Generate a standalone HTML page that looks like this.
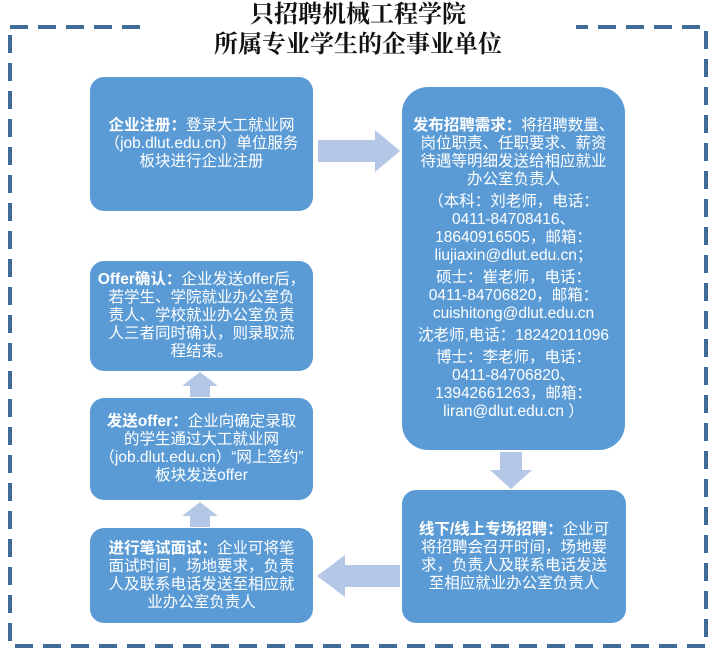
<!DOCTYPE html>
<html><head><meta charset="utf-8"><style>
body{margin:0;width:716px;height:653px;background:#fff;position:relative;overflow:hidden;font-family:"Liberation Sans","Noto Sans CJK SC",sans-serif;}
.title{position:absolute;text-align:center;background:#fff;font-family:"Liberation Serif","Noto Serif CJK SC",serif;font-weight:bold;font-size:24px;line-height:30px;color:#111;}
.box{position:absolute;background:#5b9bd5;color:#fff;font-size:15.5px;line-height:18px;text-align:center;display:flex;flex-direction:column;justify-content:center;align-items:center;border-radius:14px;box-sizing:border-box;white-space:nowrap;}
.box b{font-weight:bold}
.box p{margin:0 0 4px 0}
svg{position:absolute;left:0;top:0}
</style></head><body>
<svg width="716" height="653">
<rect x="10" y="27" width="696" height="619" fill="none" stroke="#3f6d96" stroke-width="4" stroke-dasharray="18,10"/>
</svg>
<div class="title" style="top:0px;left:140px;width:436px;">只招聘机械工程学院</div>
<div class="title" style="top:30px;left:205px;width:306px;">所属专业学生的企事业单位</div>

<div class="box" style="left:90px;top:77px;width:223px;height:134px;"><div><b>企业注册：</b>登录大工就业网<br>（job.dlut.edu.cn）单位服务<br>板块进行企业注册</div></div>

<div class="box" style="left:402px;top:87px;width:223px;height:363px;border-radius:26px;">
<p><b>发布招聘需求：</b>将招聘数量、<br>岗位职责、任职要求、薪资<br>待遇等明细发送给相应就业<br>办公室负责人</p>
<p>（本科：刘老师，电话：<br>0411-84708416、<br>18640916505，邮箱：<br>liujiaxin@dlut.edu.cn；</p>
<p>硕士：崔老师，电话：<br>0411-84706820，邮箱：<br>cuishitong@dlut.edu.cn</p>
<p>沈老师,电话：18242011096</p>
<p style="margin:0">博士：李老师，电话：<br>0411-84706820、<br>13942661263，邮箱：<br>liran@dlut.edu.cn ）</p>
</div>

<div class="box" style="left:90px;top:261px;width:223px;height:110px;"><div><b>Offer确认：</b>企业发送offer后，<br>若学生、学院就业办公室负<br>责人、学校就业办公室负责<br>人三者同时确认，则录取流<br>程结束。</div></div>

<div class="box" style="left:90px;top:398px;width:223px;height:102px;"><div><b>发送offer：</b>企业向确定录取<br>的学生通过大工就业网<br>（job.dlut.edu.cn）“网上签约”<br>板块发送offer</div></div>

<div class="box" style="left:90px;top:528px;width:223px;height:95px;"><div><b>进行笔试面试：</b>企业可将笔<br>面试时间，场地要求，负责<br>人及联系电话发送至相应就<br>业办公室负责人</div></div>

<div class="box" style="left:402px;top:490px;width:224px;height:133px;"><div><b>线下/线上专场招聘：</b>企业可<br>将招聘会召开时间，场地要<br>求，负责人及联系电话发送<br>至相应就业办公室负责人</div></div>

<svg width="716" height="653">
<g fill="#b4c7e7">
<polygon points="318,140 375,140 375,130 400,151 375,172 375,162 318,162"/>
<polygon points="500,452 522,452 522,470 532,470 511,489 490,470 500,470"/>
<polygon points="400,565 345,565 345,555 317,576 345,597 345,587 400,587"/>
<polygon points="190,527 210,527 210,516 218,516 200,502 182,516 190,516"/>
<polygon points="190,397 210,397 210,386 218,386 200,372 182,386 190,386"/>
</g>
</svg>
</body></html>
